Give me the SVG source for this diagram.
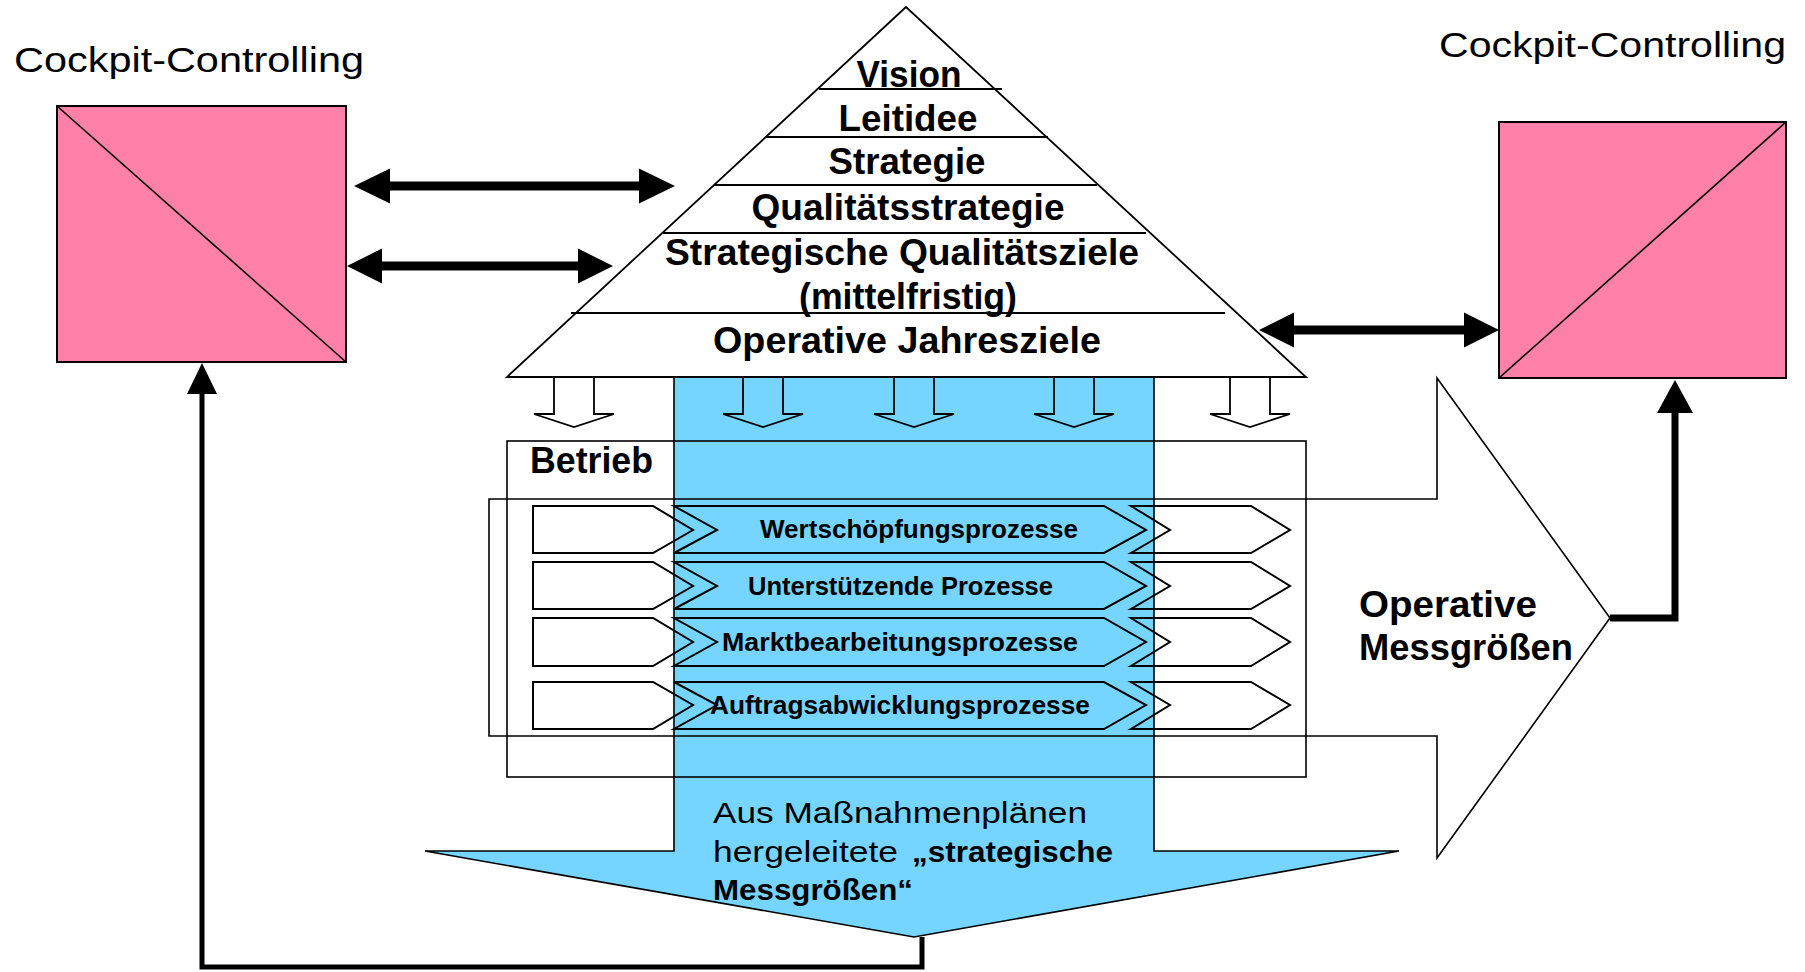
<svg xmlns="http://www.w3.org/2000/svg" width="1805" height="972" viewBox="0 0 1805 972">
<style>
text{font-family:"Liberation Sans",Arial,sans-serif;fill:#000}
.b{font-weight:bold}
.pt{font-size:37px;font-weight:bold;text-anchor:middle}
.ct{font-size:25px;font-weight:bold}
.cc{font-size:35px}
.ln{fill:none;stroke:#000;stroke-width:1.6}
.ch{fill:none;stroke:#000;stroke-width:2}
.pink{fill:#FF80A8;stroke:#000;stroke-width:2}
.thick{fill:#000;stroke:none}
</style>
<defs>
<polyline id="dn" points="-20,378 -20,414 -40,414 0,427 40,414 20,414 20,378" fill="none" stroke="#000" stroke-width="1.8"/>
</defs>

<g id="blue-arrow">
<polygon points="674,377 1154,377 1154,851 1399,851 914,937 425,851 674,851" fill="#76D5FF" stroke="#000" stroke-width="1.6"/>
<text x="713" y="823" style="font-size:29px" textLength="374" lengthAdjust="spacingAndGlyphs">Aus Maßnahmenplänen</text>
<text x="713" y="862" style="font-size:29px" textLength="185" lengthAdjust="spacingAndGlyphs">hergeleitete</text>
<text x="912" y="862" class="b" style="font-size:29px" textLength="201" lengthAdjust="spacingAndGlyphs">„strategische</text>
<text x="713" y="900" class="b" style="font-size:29px" textLength="200" lengthAdjust="spacingAndGlyphs">Messgrößen“</text>
</g>

<g id="pyramid">
<polygon points="906,7 507,377 1306,377" fill="#fff" stroke="#000" stroke-width="1.8"/>
<line x1="819" y1="89" x2="1002" y2="89" stroke="#000" stroke-width="2"/>
<line x1="766" y1="137" x2="1048" y2="137" stroke="#000" stroke-width="2"/>
<line x1="714" y1="185" x2="1097" y2="185" stroke="#000" stroke-width="2"/>
<line x1="663" y1="233" x2="1146" y2="233" stroke="#000" stroke-width="2"/>
<line x1="571" y1="313" x2="1225" y2="313" stroke="#000" stroke-width="2"/>
<text class="pt" x="909" y="87" textLength="105" lengthAdjust="spacingAndGlyphs">Vision</text>
<text class="pt" x="908" y="131" textLength="139" lengthAdjust="spacingAndGlyphs">Leitidee</text>
<text class="pt" x="907" y="174" textLength="157" lengthAdjust="spacingAndGlyphs">Strategie</text>
<text class="pt" x="908" y="220" textLength="313" lengthAdjust="spacingAndGlyphs">Qualitätsstrategie</text>
<text class="pt" x="902" y="265" textLength="474" lengthAdjust="spacingAndGlyphs">Strategische Qualitätsziele</text>
<text class="pt" x="908" y="309" textLength="218" lengthAdjust="spacingAndGlyphs">(mittelfristig)</text>
<text class="pt" x="907" y="353" textLength="388" lengthAdjust="spacingAndGlyphs">Operative Jahresziele</text>
</g>

<g id="down-arrows">
<use href="#dn" x="574"/>
<use href="#dn" x="763"/>
<use href="#dn" x="914"/>
<use href="#dn" x="1074"/>
<use href="#dn" x="1250"/>
</g>

<g id="betrieb">
<rect x="507" y="441" width="799" height="336" class="ln"/>
<text x="530" y="473" class="b" style="font-size:37px" textLength="123" lengthAdjust="spacingAndGlyphs">Betrieb</text>
</g>

<g id="operative-arrow">
<polygon points="489,499 1437,499 1437,378 1610,618 1437,858 1437,736 489,736" class="ln"/>
<text x="1359" y="617" class="b" style="font-size:37px" textLength="178" lengthAdjust="spacingAndGlyphs">Operative</text>
<text x="1359" y="660" class="b" style="font-size:37px" textLength="214" lengthAdjust="spacingAndGlyphs">Messgrößen</text>
</g>

<g id="process-wertschoepfung">
<polygon points="533,506 653,506 693,530 653,553 533,553" class="ch"/>
<polygon points="674,506 1104,506 1146,530 1104,553 674,553 717,530" class="ch"/>
<polygon points="1131,506 1251,506 1290,530 1251,553 1131,553 1170,530" class="ch"/>
<text x="760" y="538" class="ct" textLength="318" lengthAdjust="spacingAndGlyphs">Wertschöpfungsprozesse</text>
</g>
<g id="process-unterstuetzend">
<polygon points="533,562 653,562 693,586 653,609 533,609" class="ch"/>
<polygon points="674,562 1104,562 1146,586 1104,609 674,609 717,586" class="ch"/>
<polygon points="1131,562 1251,562 1290,586 1251,609 1131,609 1170,586" class="ch"/>
<text x="748" y="595" class="ct" textLength="305" lengthAdjust="spacingAndGlyphs">Unterstützende Prozesse</text>
</g>
<g id="process-markt">
<polygon points="533,618 653,618 693,642 653,666 533,666" class="ch"/>
<polygon points="674,618 1104,618 1146,642 1104,666 674,666 717,642" class="ch"/>
<polygon points="1131,618 1251,618 1290,642 1251,666 1131,666 1170,642" class="ch"/>
<text x="722" y="651" class="ct" textLength="356" lengthAdjust="spacingAndGlyphs">Marktbearbeitungsprozesse</text>
</g>
<g id="process-auftrag">
<polygon points="533,682 653,682 693,705 653,729 533,729" class="ch"/>
<polygon points="674,682 1104,682 1146,705 1104,729 674,729 717,705" class="ch"/>
<polygon points="1131,682 1251,682 1290,705 1251,729 1131,729 1170,705" class="ch"/>
<text x="710" y="714" class="ct" textLength="380" lengthAdjust="spacingAndGlyphs">Auftragsabwicklungsprozesse</text>
</g>

<g id="cockpit-left">
<text x="14" y="72" class="cc" textLength="350" lengthAdjust="spacingAndGlyphs">Cockpit-Controlling</text>
<rect x="57" y="106" width="289" height="256" class="pink"/>
<line x1="57" y1="106" x2="346" y2="362" stroke="#000" stroke-width="1.6"/>
</g>

<g id="cockpit-right">
<text x="1439" y="57" class="cc" textLength="347" lengthAdjust="spacingAndGlyphs">Cockpit-Controlling</text>
<rect x="1499" y="122" width="287" height="256" class="pink"/>
<line x1="1499" y1="378" x2="1786" y2="122" stroke="#000" stroke-width="1.6"/>
</g>

<g id="connectors">
<polygon class="thick" points="354,186 390,168.5 390,181.5 639,181.5 639,168.5 675,186 639,203.5 639,190.5 390,190.5 390,203.5"/>
<polygon class="thick" points="347,266 382,248.5 382,261.5 578,261.5 578,248.5 613,266 578,283.5 578,270.5 382,270.5 382,283.5"/>
<polygon class="thick" points="1259,330 1294,312.5 1294,325.5 1464,325.5 1464,312.5 1499,330 1464,347.5 1464,334.5 1294,334.5 1294,347.5"/>
<polyline points="922,937 922,967 202,967 202,390" fill="none" stroke="#000" stroke-width="5"/>
<polygon class="thick" points="202,363 187,394 217,394"/>
<polyline points="1610,618 1675,618 1675,410" fill="none" stroke="#000" stroke-width="7"/>
<polygon class="thick" points="1675,380 1657,413 1693,413"/>
</g>
</svg>
